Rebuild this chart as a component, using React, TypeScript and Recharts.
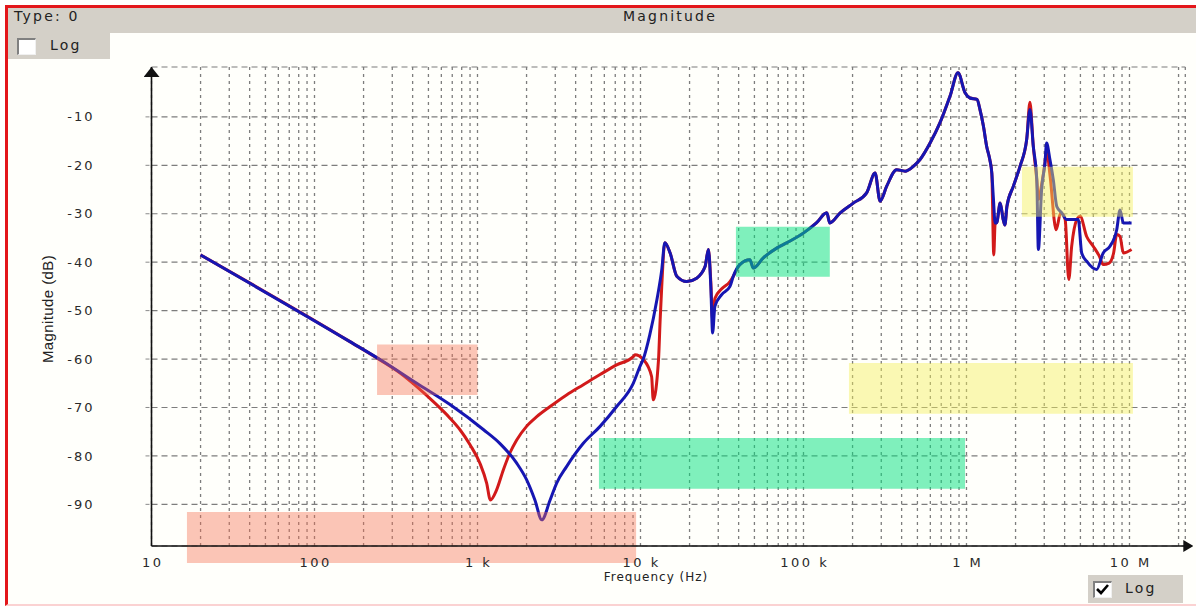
import { CartesianGrid, Line, LineChart, ReferenceArea, XAxis, YAxis } from 'recharts';

// frequency response (Hz / dB)
const blueFreqs = [
  20, 165, 264, 424, 678, 1090, 1370, 1740, 2000, 2250, 2480, 2790, 3060, 3520, 4460, 5650, 7140, 9030, 9930,
  10400, 11400, 12600, 13500, 14100, 15200, 16700, 19200, 22100, 24900, 26100, 27000, 27700, 28600, 31500, 35400,
  37100, 40700, 46900, 49200, 56700, 68500, 78900, 99800, 120000, 139000, 145000, 168000, 202000, 244000, 275000,
  295000, 324000, 373000, 420000, 472000, 519000, 598000, 688000, 793000, 887000, 980000, 1050000, 1160000,
  1210000, 1270000, 1330000, 1390000, 1430000, 1460000, 1500000, 1530000, 1610000, 1680000, 1720000, 1770000,
  1940000, 2130000, 2340000, 2450000, 2570000, 2700000, 2760000, 2890000, 3030000, 3100000, 3250000, 3410000,
  3580000, 3840000, 4120000, 4850000, 5090000, 5460000, 6290000, 6900000, 7590000, 8350000, 8750000, 9170000,
  10300000,
];
const blueMagnitudes = [
  -38.5, -56.4, -60.5, -65.0, -69.4, -74.6, -77.4, -81.5, -84.9, -89.1, -93.2, -89.1, -85.6, -82.2, -77.4, -73.9,
  -69.8, -65.0, -61.5, -60.0, -55.0, -47.8, -41.6, -36.0, -38.1, -42.9, -44.0, -43.3, -40.9, -37.4, -45.0, -54.6,
  -49.1, -46.7, -45.0, -42.9, -40.5, -39.5, -41.2, -39.1, -37.1, -36.0, -34.0, -31.9, -29.8, -31.9, -29.8, -27.8,
  -25.7, -21.6, -27.4, -24.3, -20.9, -21.2, -20.2, -18.8, -15.4, -11.2, -5.7, -0.9, -5.0, -6.1, -6.4, -8.5, -11.9,
  -16.1, -18.8, -21.6, -26.4, -31.9, -31.9, -27.8, -31.2, -32.3, -28.5, -24.3, -20.2, -14.7, -8.5, -16.1, -23.0,
  -37.4, -25.0, -19.5, -15.4, -18.8, -23.0, -28.5, -29.8, -31.2, -31.2, -38.1, -39.8, -41.5, -38.1, -36.7, -33.3,
  -29.2, -31.9, -31.9,
];

const redFreqs = [
  20, 165, 264, 335, 424, 536, 678, 781, 900, 1035, 1138, 1200, 1310, 1440, 1580, 1740, 2000, 2310, 2790, 3520,
  4460, 5650, 7140, 9030, 9250, 10400, 11700, 11970, 12900, 13200, 13500, 14100, 15200, 16700, 19200, 22100, 24900,
  26100, 27000, 27700, 28600, 31500, 35400, 37100, 40700, 46900, 49200, 56700, 68500, 78900, 99800, 120000, 139000,
  145000, 168000, 202000, 244000, 275000, 295000, 324000, 373000, 420000, 472000, 519000, 598000, 688000, 793000,
  887000, 980000, 1050000, 1160000, 1210000, 1270000, 1330000, 1390000, 1430000, 1470000, 1500000, 1530000,
  1610000, 1680000, 1720000, 1770000, 1940000, 2130000, 2340000, 2450000, 2570000, 2700000, 2760000, 2890000,
  3030000, 3100000, 3250000, 3550000, 3780000, 4030000, 4240000, 4420000, 4750000, 4980000, 5460000, 5990000,
  6540000, 6900000, 7500000, 7990000, 8350000, 8750000, 9170000, 10300000,
];
const redMagnitudes = [
  -38.5, -56.4, -60.6, -62.9, -65.7, -68.8, -72.2, -74.6, -77.7, -81.5, -85.6, -89.1, -87.0, -82.9, -79.4, -76.7,
  -73.9, -71.9, -69.8, -67.4, -65.3, -63.2, -61.2, -59.5, -59.1, -60.1, -63.6, -68.4, -60.1, -51.9, -45.0, -36.0,
  -38.1, -42.9, -44.0, -43.3, -40.9, -37.4, -44.0, -52.0, -47.5, -45.5, -44.0, -42.9, -40.5, -39.5, -41.2, -39.1,
  -37.1, -36.0, -34.0, -31.9, -29.8, -31.9, -29.8, -27.8, -25.7, -21.6, -27.4, -24.3, -20.9, -21.2, -20.2, -18.8,
  -15.4, -11.2, -5.7, -0.9, -5.0, -6.1, -6.4, -8.5, -11.9, -16.1, -18.8, -21.6, -38.5, -31.9, -31.9, -27.8, -31.2,
  -32.3, -28.5, -24.3, -20.2, -14.7, -7.0, -16.1, -23.0, -27.0, -24.0, -19.5, -16.8, -21.9, -33.3, -29.8, -31.2,
  -43.6, -36.7, -31.2, -30.5, -34.7, -36.7, -38.8, -40.5, -40.2, -38.1, -34.3, -34.7, -38.1, -37.4,
];

// limit masks: [fStart, fEnd, dbTop, dbBottom, colour]
const maskBoxes: [number, number, number, number, string][] = [
  [16.5, 9400, -91.6, -102.1, 'rgba(245, 110, 80, 0.4)'],
  [242, 1000, -57.0, -67.4, 'rgba(245, 110, 80, 0.4)'],
  [5560, 980000, -76.3, -86.8, 'rgba(0, 225, 125, 0.5)'],
  [38500, 145000, -32.7, -43.0, 'rgba(0, 225, 125, 0.5)'],
  [190000, 10500000, -60.8, -71.3, 'rgba(245, 240, 90, 0.45)'],
  [2190000, 10500000, -20.3, -30.6, 'rgba(245, 240, 90, 0.45)'],
];

const decades = [10, 100, 1e3, 1e4, 1e5, 1e6, 1e7];
const decadeLabels = ['10', '100', '1 k', '10 k', '100 k', '1 M', '10 M'];
const multipliers = [1, 2, 3, 4, 5, 6, 7, 8, 9];
const yTicks = [-90, -80, -70, -60, -50, -40, -30, -20, -10];

const xGridTicks = decades.flatMap((d) => multipliers.map((m) => d * m)).filter((v) => v <= 2.2e7);
const bluePoints = blueFreqs.map((f, i) => ({ f, db: blueMagnitudes[i] }));
const redPoints = redFreqs.map((f, i) => ({ f, db: redMagnitudes[i] }));

const uiFont = '"DejaVu Sans", Verdana, sans-serif';

const XTick = ({ x, y, payload }: any) => {
  const idx = decades.indexOf(payload.value);
  if (idx < 0) return <g />;
  return (
    <text x={x + 1.2} y={y + 20.5} textAnchor="middle" fontFamily={uiFont} fontSize={13} letterSpacing={2.5} fill="#2a2a2a">
      {decadeLabels[idx]}
    </text>
  );
};

const YTick = ({ x, y, payload }: any) => (
  <text x={x - 51} y={y + 4.6} textAnchor="end" fontFamily={uiFont} fontSize={13} letterSpacing={2} fill="#2a2a2a">
    {payload.value}
  </text>
);

const CheckBox = ({ checked }: { checked: boolean }) => (
  <div
    style={{
      width: 16,
      height: 14,
      background: '#fff',
      borderTop: '2px solid #808080',
      borderLeft: '2px solid #808080',
      borderBottom: '1px solid #f0f0f0',
      borderRight: '1px solid #f0f0f0',
    }}
  >
    {checked && (
      <svg width={16} height={14}>
        <path d="M2,6 L6,10 L13,2" stroke="#000" strokeWidth={2.6} fill="none" />
      </svg>
    )}
  </div>
);

export default function App() {
  return (
    <div style={{ position: 'absolute', left: 0, top: 0, width: 1196, height: 607, background: '#fff', overflow: 'hidden' }}>
      <div
        style={{
          position: 'absolute',
          left: 5,
          top: 5,
          width: 1191,
          height: 601,
          boxSizing: 'border-box',
          borderTop: '3px solid #e3161b',
          borderLeft: '3px solid #e3161b',
          borderBottom: '2px solid #fbd2d2',
          background: '#fffffb',
        }}
      />
      <div style={{ position: 'absolute', left: 8, top: 8, width: 1188, height: 25, background: '#d4d0c8' }} />
      <div style={{ position: 'absolute', left: 8, top: 33, width: 102, height: 26, background: '#d4d0c8' }} />
      <div style={{ position: 'absolute', left: 1088, top: 575, width: 95, height: 28, background: '#d4d0c8' }} />

      <div style={{ position: 'absolute', left: 14, top: 8, fontFamily: uiFont, fontSize: 14, letterSpacing: 2.2, color: '#222' }}>
        Type: 0
      </div>
      <div style={{ position: 'absolute', left: 670, top: 8, transform: 'translateX(-50%)', fontFamily: uiFont, fontSize: 14, letterSpacing: 2.2, color: '#222' }}>
        Magnitude
      </div>
      <div style={{ position: 'absolute', left: 17, top: 38 }}>
        <CheckBox checked={false} />
      </div>
      <div style={{ position: 'absolute', left: 50, top: 37, fontFamily: uiFont, fontSize: 14, letterSpacing: 2.2, color: '#222' }}>
        Log
      </div>
      <div style={{ position: 'absolute', left: 1093, top: 581 }}>
        <CheckBox checked />
      </div>
      <div style={{ position: 'absolute', left: 1125, top: 580, fontFamily: uiFont, fontSize: 14, letterSpacing: 2.2, color: '#222' }}>
        Log
      </div>

      <div style={{ position: 'absolute', left: 0, top: 0 }}>
        <LineChart width={1196} height={607} margin={{ top: 67, right: 10.7, bottom: 31, left: 91.5 }}>
          <defs>
            <marker id="xArrow" viewBox="0 0 10 12" refX="2" refY="6" markerWidth="10" markerHeight="12" markerUnits="userSpaceOnUse" orient="auto">
              <path d="M0,0 L10,6 L0,12 z" fill="#111" />
            </marker>
            <marker id="yArrow" viewBox="0 0 10 16" refX="10" refY="8" markerWidth="10" markerHeight="16" markerUnits="userSpaceOnUse" orient="auto-start-reverse">
              <path d="M0,0 L10,8 L0,16 z" fill="#111" />
            </marker>
          </defs>
          <CartesianGrid vertical={false} stroke="#7d7d7d" strokeWidth={1.2} strokeDasharray="6 4" />
          <CartesianGrid horizontal={false} stroke="#7d7d7d" strokeWidth={1.3} strokeDasharray="3 4" />
          <XAxis
            dataKey="f"
            type="number"
            scale="log"
            domain={[10, 2.2e7]}
            allowDataOverflow
            ticks={xGridTicks}
            interval={0}
            height={30}
            tickSize={0}
            tickMargin={0}
            tickLine={false}
            tick={<XTick />}
            axisLine={{ stroke: '#111', strokeWidth: 1.6, markerEnd: 'url(#xArrow)' }}
          />
          <YAxis
            type="number"
            domain={[-98.6, 0.3]}
            allowDataOverflow
            ticks={yTicks}
            interval={0}
            width={60}
            tickSize={6}
            tickMargin={0}
            tickLine={{ stroke: '#8a8a8a', strokeDasharray: '4 2' }}
            tick={<YTick />}
            axisLine={{ stroke: '#111', strokeWidth: 1.6, markerStart: 'url(#yArrow)' }}
          />
          <Line data={redPoints} dataKey="db" type="monotone" stroke="#d21a1a" strokeWidth={3} dot={false} isAnimationActive={false} />
          <Line data={bluePoints} dataKey="db" type="monotone" stroke="#1616b2" strokeWidth={3} dot={false} isAnimationActive={false} />
          {maskBoxes.map(([x1, x2, y1, y2, fill], i) => (
            <ReferenceArea key={i} x1={x1} x2={x2} y1={y1} y2={y2} fill={fill} fillOpacity={1} stroke="none" ifOverflow="visible" zIndex={450} />
          ))}
        </LineChart>
      </div>

      <div
        style={{
          position: 'absolute',
          left: 47,
          top: 309,
          transform: 'translate(-50%, -50%) rotate(-90deg)',
          whiteSpace: 'nowrap',
          fontFamily: '"Liberation Sans", Arial, sans-serif',
          fontSize: 15,
          letterSpacing: 0.4,
          color: '#222',
        }}
      >
        Magnitude (dB)
      </div>
      <div
        style={{
          position: 'absolute',
          left: 656,
          top: 577,
          transform: 'translate(-50%, -50%)',
          whiteSpace: 'nowrap',
          fontFamily: uiFont,
          fontSize: 12,
          letterSpacing: 1,
          color: '#222',
        }}
      >
        Frequency (Hz)
      </div>
    </div>
  );
}
